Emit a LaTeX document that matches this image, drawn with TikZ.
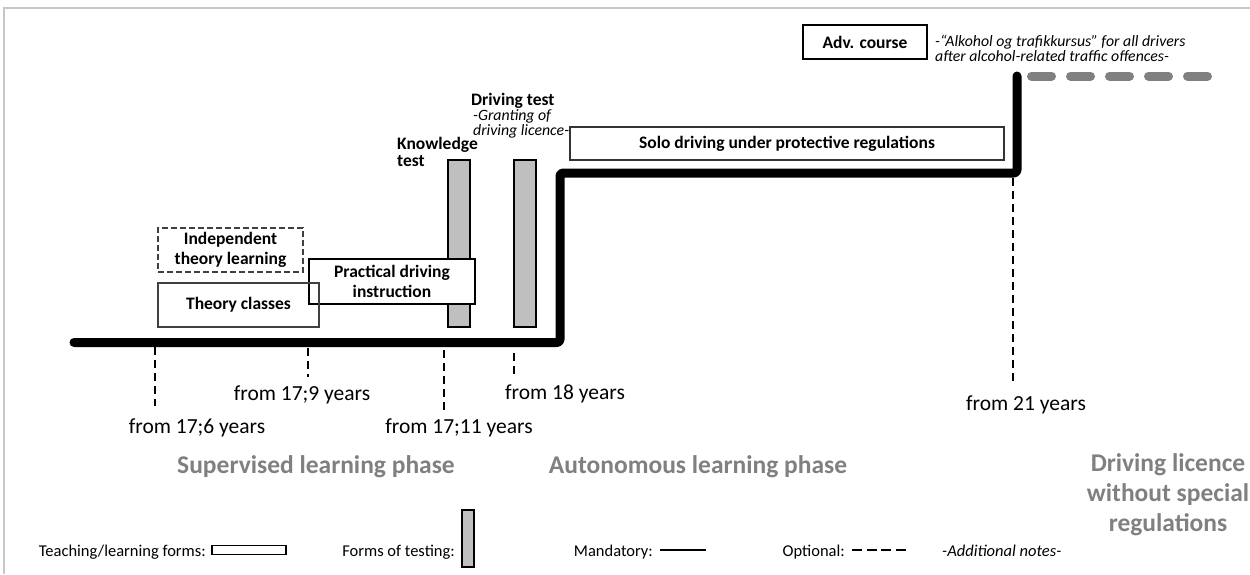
\documentclass[tikz,border=0pt]{standalone}
\usepackage{fontspec}
\setmainfont{Carlito}
\newcommand\boxfont{\fontsize{17.5}{20}\selectfont\bfseries}
\newcommand\testfont{\fontsize{17.5}{16.5}\selectfont\bfseries}
\newcommand\agefont{\fontsize{21.5}{24}\selectfont}
\newcommand\phasefont{\fontsize{25.5}{30}\selectfont\bfseries}
\newcommand\notefont{\fontsize{15.8}{14.2}\selectfont\itshape}
\newcommand\legfont{\fontsize{16.5}{19}\selectfont}
\begin{document}
\begin{tikzpicture}[x=1pt,y=-1pt,
  frame/.style={draw=black!22, line width=2},
  timeline/.style={line width=9, line cap=round, line join=round, rounded corners=3},
  optline/.style={line width=9, line cap=round, draw=black!50, dash pattern=on 20pt off 19pt},
  tick/.style={line width=2.5, dash pattern=on 8pt off 5pt},
  formbox/.style={draw, line width=1.1, inner sep=0, align=center, font=\boxfont},
  testbar/.style={draw, line width=1.1, fill=black!25, inner sep=0},
  age/.style={font=\agefont, anchor=base, inner sep=0},
  phase/.style={font=\phasefont, text=black!50, align=center, inner sep=0, anchor=base},
  note/.style={font=\notefont, align=left, inner sep=0, anchor=base west},
  label/.style={font=\testfont, align=left, inner sep=0, anchor=base west},
  legend/.style={font=\legfont, anchor=base east, inner sep=0}
]
\useasboundingbox (0,0) rectangle (1250,574);
\draw[frame] (4,574) -- (4,8) -- (1250,8);

% time line with the step into solo driving and the licence without restrictions
\coordinate (t0) at (74,342.5);
\coordinate (t1) at (560,342.5);
\coordinate (t2) at (560,173);
\coordinate (t3) at (1017,173);
\coordinate (t4) at (1017,76);
\draw[timeline] (t0) -- (t1) -- (t2) -- (t3) -- (t4);
\coordinate (o0) at (1031.5,76);
\coordinate (o1) at (1208,76);
\draw[optline] (o0) -- (o1);

% tests
\node[testbar, minimum width=22, minimum height=167] (kbar) at (459,243.5) {};
\node[testbar, minimum width=22, minimum height=167] (dbar) at (525,243.5) {};
\node[label] (klab) at (397,166) {Knowledge\\test};
\node[label] (dlab) at (471,105.5) {Driving test};
\node[note] (dnote) at (473,135) {-Granting of\\driving licence-};

% teaching and learning forms
\node[formbox, draw=black!75, dash pattern=on 6pt off 3pt, minimum width=145, minimum height=44] (indep) at (230.5,250) {Independent\\theory learning};
\node[formbox, fill=white, minimum width=166, minimum height=45] (pract) at (392,281.5) {Practical driving\\instruction};
\node[formbox, draw=black!75, minimum width=161, minimum height=44] (theory) at (238.5,305) {Theory classes};
\node[formbox, draw=black!80, fill=white, minimum width=434, minimum height=33] (solo) at (787,143.5) {Solo driving under protective regulations};
\node[formbox, line width=1.4, minimum width=124, minimum height=34] (adv) at (865,42) {Adv. course};
\node[note] (advnote) at (935,61) {-\textquotedblleft Alkohol og trafikkursus\textquotedblright{} for all drivers\\after alcohol-related traffic offences-};

% age marks
\draw[tick] (155,347) -- (155,406);
\draw[tick] (308,348) -- (308,377);
\draw[tick] (444,350) -- (444,410);
\draw[tick] (514,353) -- (514,375);
\draw[tick] (1013,178) -- (1013,383);
\node[age] (a1) at (197,433) {from 17;6 years};
\node[age] (a2) at (302,400) {from 17;9 years};
\node[age] (a3) at (459,433) {from 17;11 years};
\node[age] (a4) at (565,399) {from 18 years};
\node[age] (a5) at (1026,410) {from 21 years};

% phases
\node[phase] (p1) at (316,473) {Supervised learning phase};
\node[phase] (p2) at (698,473) {Autonomous learning phase};
\node[phase, anchor=north] (p3) at (1168,453) {Driving licence\\without special\\regulations};

% legend
\node[legend] (l1) at (206,556) {Teaching/learning forms:};
\node[draw, line width=1.1, inner sep=0, minimum width=74, minimum height=9] (l1s) at (249,550) {};
\node[legend] (l2) at (455,556) {Forms of testing:};
\node[draw, line width=1.1, fill=black!25, inner sep=0, minimum width=12, minimum height=57] (l2s) at (468,538.5) {};
\node[legend] (l3) at (653,556) {Mandatory:};
\coordinate (l3a) at (660,550);
\coordinate (l3b) at (706,550);
\draw[line width=1.1] (l3a) -- (l3b);
\node[legend] (l4) at (845,556) {Optional:};
\coordinate (l4a) at (852,550);
\coordinate (l4b) at (906,550);
\draw[line width=1.5, dash pattern=on 10pt off 4.7pt] (l4a) -- (l4b);
\node[legend, anchor=base west, font=\legfont\itshape] (l5) at (942,556) {-Additional notes-};
\end{tikzpicture}
\end{document}
